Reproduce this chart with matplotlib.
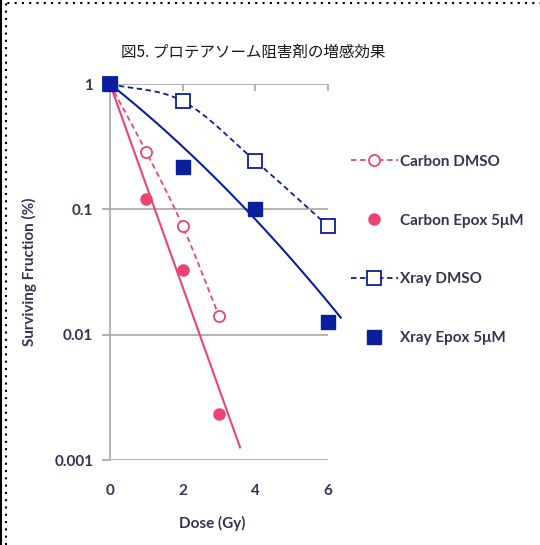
import numpy as np
import matplotlib
matplotlib.use('Agg')
import matplotlib.pyplot as plt
from matplotlib.lines import Line2D

# survival data (dose in Gy, surviving fraction)
dose_carbon = [0, 1, 2, 3]
carbon_dmso = [1.0, 0.286, 0.0736, 0.0141]
carbon_epox = [1.0, 0.121, 0.0328, 0.00232]

dose_xray = [0, 2, 4, 6]
xray_dmso = [1.0, 0.73, 0.243, 0.0736]
xray_epox = [1.0, 0.218, 0.100, 0.0126]

# trend line coefficients: log10 S = -a*D - b*D^2
carbon_epox_fit = (0.81, 0.0)
xray_epox_fit = (0.23, 0.010)

labels = ['Carbon DMSO', 'Carbon Epox 5μM', 'Xray DMSO', 'Xray Epox 5μM']

pink = '#EC4472'
navy = '#0B1F9C'
txt = '#3B3050'
grey = '#A6A6A6'

plt.rcParams['font.family'] = ['Lato', 'DejaVu Sans']


def smooth(x, y, n=30):
    # Catmull-Rom curve through the points, in (x, log10 y) space
    x = np.asarray(x, float)
    ly = np.log10(y)
    px = np.concatenate([[2 * x[0] - x[1]], x, [2 * x[-1] - x[-2]]])
    py = np.concatenate([[2 * ly[0] - ly[1]], ly, [2 * ly[-1] - ly[-2]]])
    xs, ys = [], []
    for i in range(1, len(px) - 2):
        t = np.linspace(0, 1, n)
        for p, out in ((px, xs), (py, ys)):
            p0, p1, p2, p3 = p[i - 1], p[i], p[i + 1], p[i + 2]
            out.extend(0.5 * (2 * p1 + (-p0 + p2) * t
                              + (2 * p0 - 5 * p1 + 4 * p2 - p3) * t ** 2
                              + (-p0 + 3 * p1 - 3 * p2 + p3) * t ** 3))
    return np.array(xs), 10 ** np.array(ys)


def trend(coef, dmax):
    a, b = coef
    d = np.linspace(0, dmax, 80)
    return d, 10 ** (-a * d - b * d ** 2)


fig = plt.figure(figsize=(5.4, 5.45), dpi=100)
ax = fig.add_axes([110 / 540, 85 / 545, 218 / 540, 376 / 545])

# trend lines for the Epox series
ax.plot(*trend(carbon_epox_fit, 3.58), color=pink, lw=1.5, zorder=3)
ax.plot(*trend(xray_epox_fit, 6.35), color=navy, lw=1.5, zorder=3, clip_on=False)

# smoothed dashed curves for the DMSO series
sx, sy = smooth(dose_carbon, carbon_dmso)
ax.plot(sx, sy, color=pink, lw=1.3, ls=(0, (3, 2)), zorder=3)
sx, sy = smooth(dose_xray, xray_dmso)
ax.plot(sx, sy, color=navy, lw=1.3, ls=(0, (3, 2)), zorder=3)

ax.plot(dose_carbon, carbon_dmso, 'o', ms=8, mfc='white', mec=pink, mew=1.3, zorder=4, clip_on=False)
ax.plot(dose_carbon, carbon_epox, 'o', ms=8, mfc=pink, mec=pink, zorder=4, clip_on=False)
ax.plot(dose_xray, xray_dmso, 's', ms=10, mfc='white', mec=navy, mew=1.3, zorder=4, clip_on=False)
ax.plot(dose_xray, xray_epox, 's', ms=10, mfc=navy, mec=navy, zorder=5, clip_on=False)

ax.set_yscale('log')
ax.set_ylim(0.001, 1)
ax.set_xlim(0, 6)
ax.set_yticks([0.001, 0.01, 0.1, 1])
ax.set_yticklabels(['0.001', '0.01', '0.1', '1'])
ax.minorticks_off()
ax.set_xticks([0, 2, 4, 6])
ax.set_xticklabels(['0', '2', '4', '6'])

for s in ['top', 'right', 'bottom']:
    ax.spines[s].set_visible(False)
ax.spines['left'].set_color(grey)
ax.spines['left'].set_linewidth(1.2)
ax.yaxis.grid(True, color=grey, lw=1.2)
ax.set_axisbelow(True)

ax.tick_params(axis='y', length=6, width=1.2, color=grey, pad=6,
               labelsize=11, labelcolor=txt)
ax.tick_params(axis='x', bottom=False, top=True, direction='in', length=5,
               width=1.2, color=grey, pad=17, labelsize=11, labelcolor=txt)
for lab in ax.get_xticklabels() + ax.get_yticklabels():
    lab.set_fontweight('bold')

ax.set_xlabel('Dose (Gy)', fontsize=11, fontweight='bold', color=txt)
ax.xaxis.set_label_coords(0.47, -56 / 376)
ax.set_ylabel('Surviving Fruction (%)', fontsize=11, fontweight='bold', color=txt, va='center')
ax.yaxis.set_label_coords(-81 / 218, 0.5)

fig.text(253 / 540, 1 - 52 / 545, '図5. プロテアソーム阻害剤の増感効果',
         family=['Noto Sans CJK JP', 'DejaVu Sans'], fontsize=11.2, color='#1A1A1A',
         ha='center', va='center')

handles = [
    Line2D([], [], color=pink, lw=1.3, ls=(0, (3, 2)), marker='o', ms=8, mfc='white', mec=pink, mew=1.3),
    Line2D([], [], ls='none', marker='o', ms=8, color=pink),
    Line2D([], [], color=navy, lw=1.3, ls=(0, (3, 2)), marker='s', ms=10, mfc='white', mec=navy, mew=1.3),
    Line2D([], [], ls='none', marker='s', ms=10, color=navy),
]
fig.legend(handles, labels, loc='upper left', bbox_to_anchor=(337 / 540, 1 - 141 / 545),
           frameon=False, handlelength=3.1, handletextpad=0.15, labelspacing=2.93,
           prop={'weight': 'bold', 'size': 11}, labelcolor=txt)

# dotted frame on the top and left edges
fig.add_artist(Line2D([0, 1], [1 - 3 / 545] * 2, transform=fig.transFigure,
                      color='black', lw=1.5, ls=(0, (1, 2.5))))
fig.add_artist(Line2D([6 / 540] * 2, [0, 1], transform=fig.transFigure,
                      color='black', lw=1.5, ls=(0, (1, 2.5))))
fig.add_artist(Line2D([1 / 540] * 2, [0, 1], transform=fig.transFigure,
                      color='black', lw=1.5))

fig.savefig('out.png', dpi=100)
